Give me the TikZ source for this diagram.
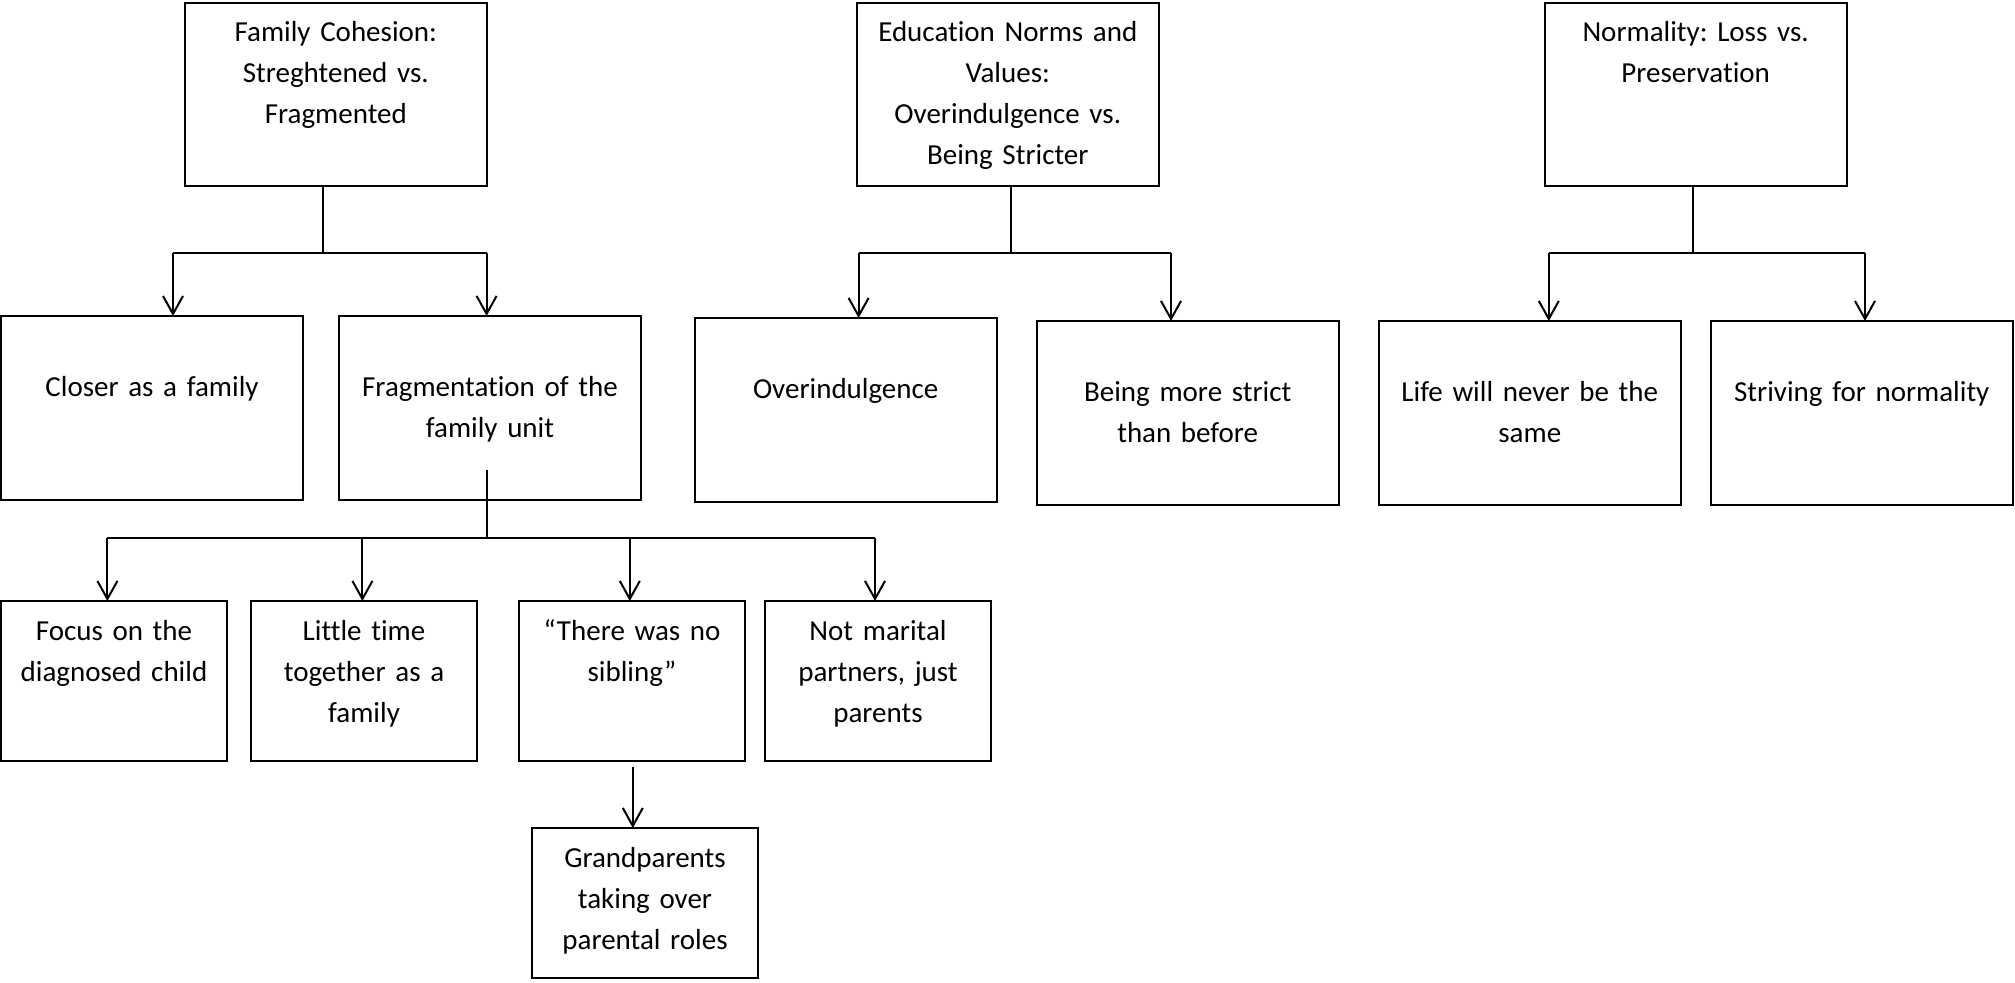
\documentclass[tikz,border=0pt]{standalone}
\usepackage{fontspec}
\setmainfont{Carlito}[Ligatures=NoCommon]
\usetikzlibrary{arrows.meta,positioning}
\tikzset{line/.style={draw, line width=1pt, -{Straight Barb[length=9pt, width=10pt]}}}
\tikzset{link/.style={draw, line width=1pt}}
\frenchspacing

\begin{document}
\begin{tikzpicture}[x=0.5pt, y=-0.5pt, node distance=18pt]
\tikzstyle{box} = [rectangle, draw, line width=1pt, inner sep=0pt, outer sep=0pt, align=center, text width=151pt, text height=19pt, text depth=72.5pt, font=\fontsize{14.5pt}{20.5pt}\selectfont]
\tikzstyle{lowbox} = [box, text height=40pt, text depth=52pt]
\tikzstyle{small} = [box, text width=113pt, text height=19.5pt, text depth=60.5pt]

\useasboundingbox (0,0) rectangle (2015,982);

% themes
\node [box, anchor=north west] (fam) at (184.8,3) {Family Cohesion:\\Streghtened vs.\\Fragmented};
\node [box, anchor=north west] (edu) at (856.8,3) {Education Norms and\\Values:\\Overindulgence vs.\\Being Stricter};
\node [box, anchor=north west] (norm) at (1544.6,3) {Normality: Loss vs.\\Preservation};

% subthemes
\node [lowbox, anchor=north west] (closer) at (1,316) {Closer as a family};
\node [lowbox, right=18pt of closer] (frag) {Fragmentation of the\\family unit};
\node [lowbox, anchor=north west] (over) at (694.7,318) {Overindulgence};
\node [lowbox, anchor=north west] (strict) at (1036.7,321) {Being more strict\\than before};
\node [lowbox, anchor=north west] (never) at (1378.8,321) {Life will never be the\\same};
\node [lowbox, right=15pt of never] (striving) {Striving for normality};

% fragmentation
\node [small, anchor=north west] (focus) at (1,601) {Focus on the\\diagnosed child};
\node [small, right=12pt of focus] (little) {Little time\\together as a\\family};
\node [small, right=21pt of little] (sibling) {“There was no\\sibling”};
\node [small, right=10pt of sibling] (marital) {Not marital\\partners, just\\parents};
\node [small, text depth=55.5pt, anchor=north west] (grand) at (532,828) {Grandparents\\taking over\\parental roles};

\coordinate (famjoin) at (322.8,253.3);
\coordinate (famL) at (173,253.3);
\coordinate (famR) at (486.6,253.3);
\coordinate (edujoin) at (1010.8,253.3);
\coordinate (eduL) at (858.6,253.3);
\coordinate (eduR) at (1171,253.3);
\coordinate (normjoin) at (1693,253.3);
\coordinate (normL) at (1548.8,253.3);
\coordinate (normR) at (1865,253.3);
\coordinate (fragstem) at (486.6,470);
\coordinate (fragjoin) at (486.6,538.3);
\coordinate (frag1) at (107.4,538.3);
\coordinate (frag2) at (362.4,538.3);
\coordinate (frag3) at (629.8,538.3);
\coordinate (frag4) at (875,538.3);
\coordinate (sibstem) at (632.8,766.7);

\path [link] (fam.south -| famjoin) -- (famjoin);
\path [link] (famL) -- (famR);
\path [line] (famL) -- (famL |- closer.north);
\path [line] (famR) -- (famR |- frag.north);

\path [link] (edu.south -| edujoin) -- (edujoin);
\path [link] (eduL) -- (eduR);
\path [line] (eduL) -- (eduL |- over.north);
\path [line] (eduR) -- (eduR |- strict.north);

\path [link] (norm.south -| normjoin) -- (normjoin);
\path [link] (normL) -- (normR);
\path [line] (normL) -- (normL |- never.north);
\path [line] (normR) -- (normR |- striving.north);

\path [link] (fragstem) -- (fragjoin);
\path [link] (frag1) -- (frag4);
\path [line] (frag1) -- (frag1 |- focus.north);
\path [line] (frag2) -- (frag2 |- little.north);
\path [line] (frag3) -- (frag3 |- sibling.north);
\path [line] (frag4) -- (frag4 |- marital.north);
\path [line] (sibstem) -- (sibstem |- grand.north);

\end{tikzpicture}
\end{document}
